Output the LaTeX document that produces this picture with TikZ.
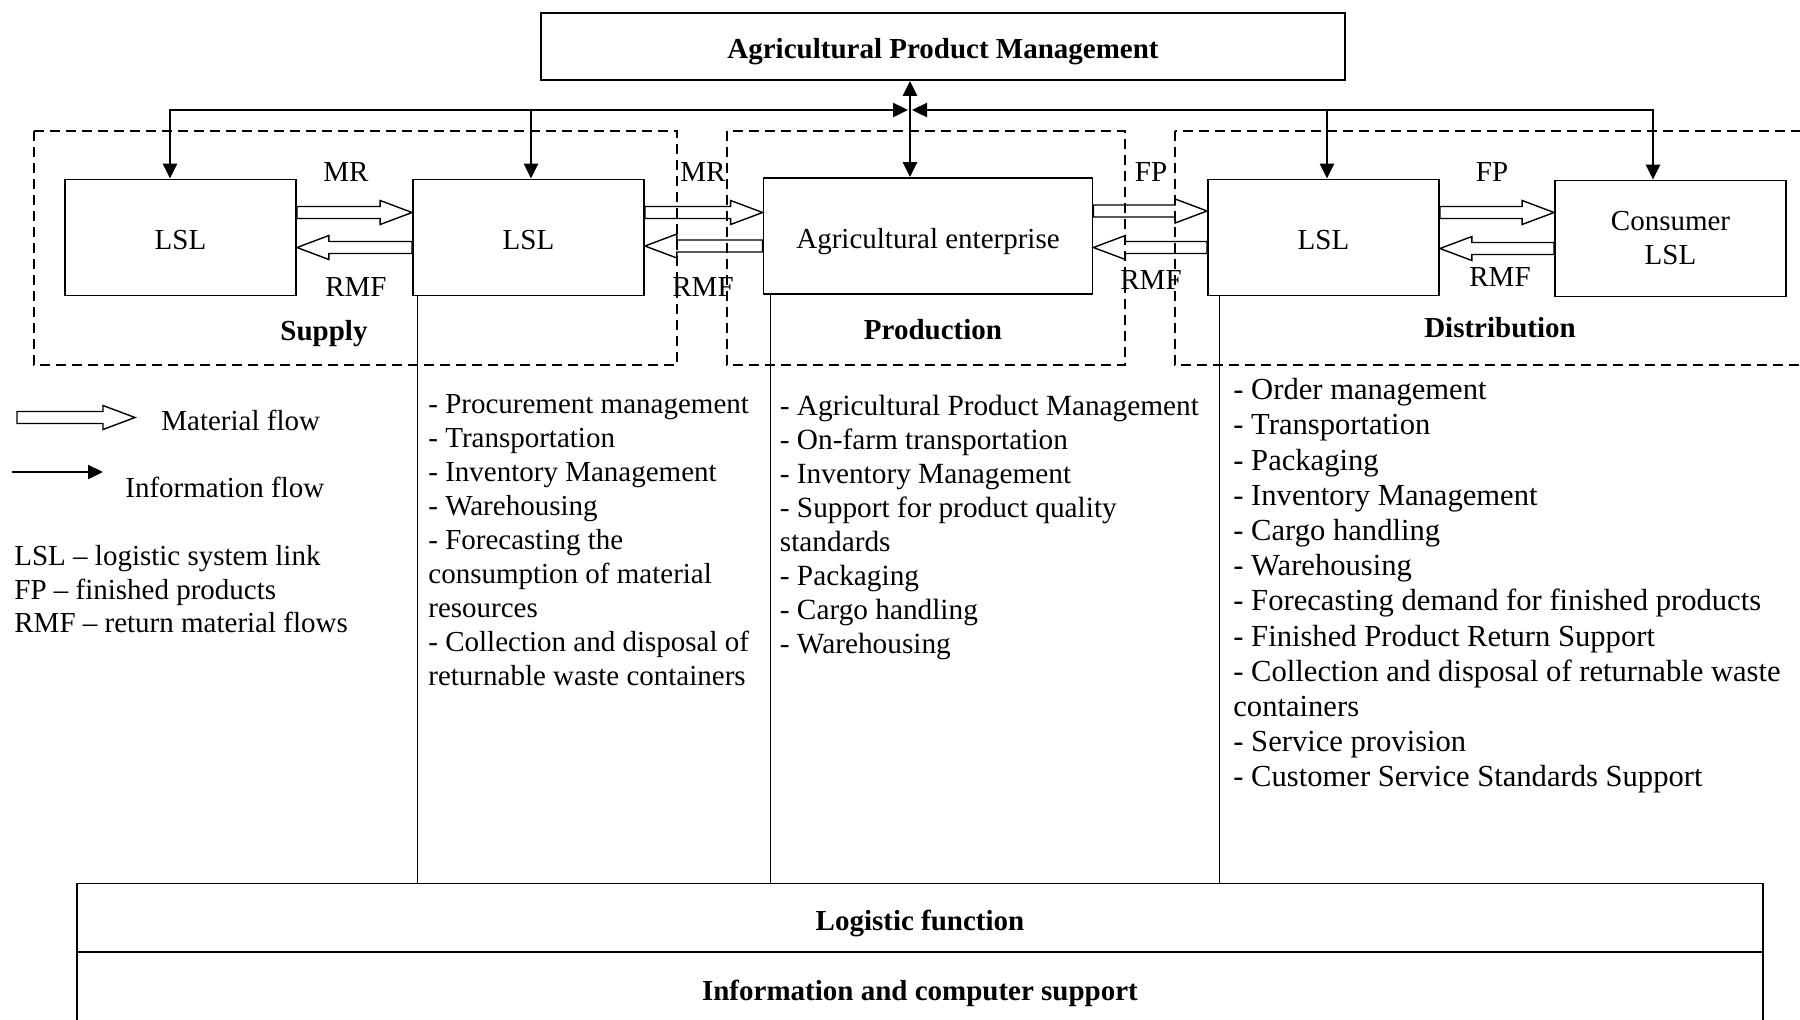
\documentclass[tikz,border=0pt]{standalone}
\usepackage{fontspec}
\setmainfont{Liberation Serif}
\usetikzlibrary{arrows.meta,calc}

\tikzset{
  box/.style={draw,line width=0.9pt,minimum width=115.5pt,minimum height=58pt,inner sep=2pt,align=center},
  oneline/.style={text height=12pt,text depth=0pt},
  zone/.style={line width=0.6pt,dash pattern=on 5pt off 3pt},
  info/.style={line width=1.2pt,>={Triangle[length=7.5pt,width=7pt]}},
  matflow/.style={line width=0.7pt,to path={let \p1=(\tikztostart),\p2=(\tikztotarget),\n1={sign(\x2-\x1)} in
    (\x1,\y1+3pt) -- ({\x2-(\n1)*16pt},\y1+3pt) -- ({\x2-(\n1)*16pt},\y1+6pt) -- (\x2,\y1)
    -- ({\x2-(\n1)*16pt},\y1-6pt) -- ({\x2-(\n1)*16pt},\y1-3pt) -- (\x1,\y1-3pt) -- cycle}},
  flist/.style={anchor=north west,align=left,inner sep=0pt},
}

\begin{document}
\begin{tikzpicture}[x=50pt,y=50pt,font=\fontsize{14.5}{17}\selectfont]
  \useasboundingbox (0,0) rectangle (18,-10.19);
  % zonas
  \draw[zone] (0.34,-1.31) rectangle (6.77,-3.65);
  \draw[zone] (7.27,-1.31) rectangle (11.25,-3.65);
  \draw[zone] (11.75,-1.31) rectangle (18.3,-3.65);
  \node (supply) at (3.24,-3.34) {\textbf{Supply}};
  \node (production) at (9.33,-3.30) {\textbf{Production}};
  \node (distribution) at (15.0,-3.28) {\textbf{Distribution}};
  % management
  \node[box,oneline,minimum width=402pt,minimum height=33.5pt] (apm) at (9.43,-0.465) {\textbf{Agricultural Product Management}};
  % links
  \node[box,oneline] (lsl1) at (1.805,-2.375) {LSL};
  \node[box,oneline] (lsl2) at (5.285,-2.375) {LSL};
  \node[box,oneline,minimum width=164.5pt] (agri) at (9.28,-2.36) {Agricultural enterprise};
  \node[box,oneline] (lsl3) at (13.235,-2.375) {LSL};
  \node[box] (cons) at (16.705,-2.385) {Consumer\\LSL};
  % material flows
  \draw[matflow] ([yshift=12.5pt]lsl1.east) to ([yshift=12.5pt]lsl2.west);
  \draw[matflow] ([yshift=-5pt]lsl2.west) to ([yshift=-5pt]lsl1.east);
  \draw[matflow] ([yshift=12.5pt]lsl2.east) to ([yshift=12.5pt]agri.west);
  \draw[matflow] ([yshift=-5pt]agri.west) to ([yshift=-5pt]lsl2.east);
  \draw[matflow] ([yshift=12.5pt]agri.east) to ([yshift=12.5pt]lsl3.west);
  \draw[matflow] ([yshift=-5pt]lsl3.west) to ([yshift=-5pt]agri.east);
  \draw[matflow] ([yshift=12.5pt]lsl3.east) to ([yshift=12.5pt]cons.west);
  \draw[matflow] ([yshift=-5pt]cons.west) to ([yshift=-5pt]lsl3.east);
  \node (mr1) at (3.46,-1.72) {MR};
  \node (mr2) at (7.03,-1.72) {MR};
  \node (fp1) at (11.51,-1.72) {FP};
  \node (fp2) at (14.92,-1.72) {FP};
  \node (rmf1) at (3.56,-2.87) {RMF};
  \node (rmf2) at (7.03,-2.87) {RMF};
  \node (rmf3) at (11.51,-2.80) {RMF};
  \node (rmf4) at (15.0,-2.77) {RMF};
  % information flows
  \coordinate (busL) at (1.70,-1.10);
  \coordinate (tapA) at (5.31,-1.10);
  \coordinate (hubL) at (9.08,-1.10);
  \coordinate (hub) at (9.10,-1.10);
  \coordinate (hubR) at (9.12,-1.10);
  \coordinate (tapB) at (13.27,-1.10);
  \coordinate (busR) at (16.53,-1.10);
  \draw[info,<->] (busL |- lsl1.north) -- (busL) -- (hubL);
  \draw[info,->] (tapA) -- (tapA |- lsl2.north);
  \draw[info,<->] (busR |- cons.north) -- (busR) -- (hubR);
  \draw[info,->] (tapB) -- (tapB |- lsl3.north);
  \draw[info,<->] (hub |- apm.south) -- (hub |- agri.north);
  % bottom blocks
  \node[box,oneline,minimum width=843pt,minimum height=34.5pt] (logf) at (9.20,-9.18) {\textbf{Logistic function}};
  \node[box,minimum width=843pt,minimum height=41pt] (ics) at (9.20,-9.93) {\textbf{Information and computer support}};
  \coordinate (d1) at ([xshift=2.5pt]lsl2.south west);
  \coordinate (d2) at ([xshift=3.75pt]agri.south west);
  \coordinate (d3) at ([xshift=6pt]lsl3.south west);
  \draw[line width=0.5pt] (d1) -- (d1 |- logf.north);
  \draw[line width=0.5pt] (d2) -- (d2 |- logf.north);
  \draw[line width=0.5pt] (d3) -- (d3 |- logf.north);
  % function lists
  \node[flist] (supplylist) at (4.28,-3.94) {- Procurement management\\- Transportation\\- Inventory Management\\- Warehousing\\- Forecasting the\\consumption of material\\resources\\- Collection and disposal of\\returnable waste containers};
  \node[flist,font=\fontsize{14.65}{17}\selectfont] (prodlist) at (7.795,-3.95) {- Agricultural Product Management\\- On-farm transportation\\- Inventory Management\\- Support for product quality\\standards\\- Packaging\\- Cargo handling\\- Warehousing};
  \node[flist,font=\fontsize{15.3}{17.6}\selectfont] (distlist) at (12.33,-3.78) {- Order management\\- Transportation\\- Packaging\\- Inventory Management\\- Cargo handling\\- Warehousing\\- Forecasting demand for finished products\\- Finished Product Return Support\\- Collection and disposal of returnable waste\\containers\\- Service provision\\- Customer Service Standards Support};
  % legend
  \coordinate (mfa) at (0.17,-4.175);
  \coordinate (mfb) at (1.35,-4.175);
  \draw[matflow] (mfa) to (mfb);
  \node[anchor=west,inner sep=0pt] (mflow) at (1.61,-4.20) {Material flow};
  \coordinate (ifa) at (0.115,-4.72);
  \coordinate (ifb) at (1.03,-4.72);
  \draw[info,->] (ifa) -- (ifb);
  \node[anchor=west,inner sep=0pt] (iflow) at (1.25,-4.87) {Information flow};
  \node[flist,font=\fontsize{14.5}{16.75}\selectfont] (abbr) at (0.14,-5.45) {LSL -- logistic system link\\FP -- finished products\\RMF -- return material flows};
\end{tikzpicture}
\end{document}
